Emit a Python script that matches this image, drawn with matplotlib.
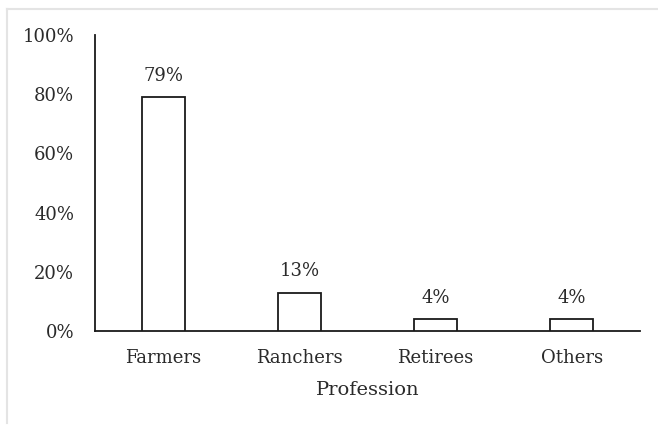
import matplotlib
matplotlib.use("Agg")
import matplotlib.pyplot as plt
from matplotlib.lines import Line2D
from matplotlib.ticker import FuncFormatter, MultipleLocator

categories = ["Farmers", "Ranchers", "Retirees", "Others"]
shares = [79, 13, 4, 4]
value_labels = ["79%", "13%", "4%", "4%"]

plt.rcParams["font.family"] = ["DejaVu Serif"]
text_color = "#2a2a2a"

fig = plt.figure(figsize=(6.58, 4.28), dpi=100)
ax = fig.add_axes([95 / 658, 1 - 331 / 428, 545 / 658, 296 / 428])

x = range(len(categories))
bars = ax.bar(x, shares, width=0.315, facecolor="white", edgecolor="#1a1a1a", linewidth=1.3, zorder=3)
for bar, lab in zip(bars, value_labels):
    ax.annotate(lab, (bar.get_x() + bar.get_width() / 2, bar.get_height()),
                xytext=(0, 9), textcoords="offset points", ha="center", va="bottom",
                fontsize=13, color=text_color)

ax.set_xlim(-0.5, len(categories) - 0.5)
ax.set_ylim(0, 100)
ax.yaxis.set_major_locator(MultipleLocator(20))
ax.yaxis.set_major_formatter(FuncFormatter(lambda v, p: f"{v:.0f}%"))
ax.set_xticks(list(x))
ax.set_xticklabels(categories)
ax.tick_params(axis="both", length=0, labelsize=13, colors=text_color)
ax.tick_params(axis="x", pad=13)
ax.tick_params(axis="y", pad=15)
ax.set_xlabel("Profession", fontsize=14, color=text_color, labelpad=10)

for side in ("top", "right"):
    ax.spines[side].set_visible(False)
for side in ("left", "bottom"):
    ax.spines[side].set_color("#1a1a1a")
    ax.spines[side].set_linewidth(1.3)

# faint frame edges around the chart area
fig.add_artist(Line2D([7 / 658, 1], [1 - 9 / 428, 1 - 9 / 428], transform=fig.transFigure, color="#e4e4e4", lw=1.5))
fig.add_artist(Line2D([7 / 658, 7 / 658], [1 - 9 / 428, 1 - 423 / 428], transform=fig.transFigure, color="#e4e4e4", lw=1.5))

fig.savefig("out.png", dpi=100, facecolor="white")
